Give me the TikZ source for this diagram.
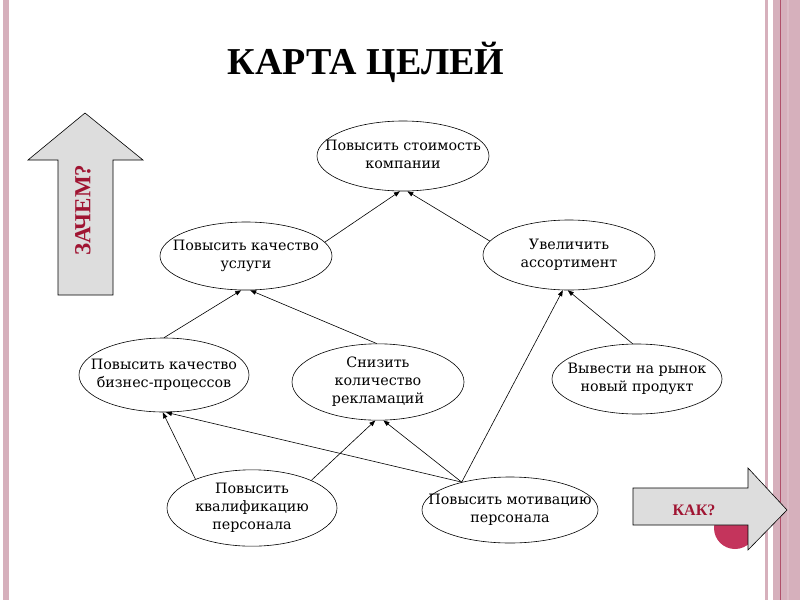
\documentclass[tikz,border=0pt]{standalone}
\usepackage{fontspec}
\setmainfont{DejaVu Serif}
\newfontfamily\titlefont{Liberation Serif}
\usetikzlibrary{arrows.meta,shapes.geometric}
\definecolor{stripe}{RGB}{214,176,188}
\definecolor{stripedark}{RGB}{176,80,106}
\definecolor{arrowgray}{RGB}{221,221,221}
\definecolor{wordred}{RGB}{160,20,50}
\definecolor{dotpink}{RGB}{196,52,92}
\newcommand\glabel[1]{\makebox[0pt]{\begin{tabular}{@{}c@{}}#1\end{tabular}}}
\tikzset{
  goal/.style={ellipse, draw, line width=0.6pt, inner sep=0pt,
    font=\fontsize{14.3}{18}\selectfont},
  conn/.style={line width=0.6pt, -{Triangle[length=6pt,width=4.5pt]}},
  bigarrow/.style={draw, line width=0.6pt, fill=arrowgray},
  word/.style={text=wordred, font=\titlefont\bfseries}
}
\begin{document}
\begin{tikzpicture}[x=1pt,y=-1pt]
\useasboundingbox (0,0) rectangle (800,600);
\fill[white] (0,0) rectangle (800,600);
% decorative stripes
\fill[stripe] (3,0) rectangle (9,600);
\fill[stripe] (765,0) rectangle (768,600);
\fill[stripe] (773,0) rectangle (800,600);
\fill[stripedark] (779.5,0) rectangle (780.8,600);
\fill[stripe!85!white] (787,0) rectangle (789,600);
% title
\node[font=\titlefont\bfseries\fontsize{38}{40}\selectfont] (title) at (366,62) {КАРТА ЦЕЛЕЙ};
% left arrow (up)
\draw[bigarrow] (58,295) -- (58,160) -- (28,160) -- (85,113) -- (143,160) -- (113,160) -- (113,295) -- cycle;
\node[word, rotate=90, font=\titlefont\bfseries\fontsize{23}{26}\selectfont] (why) at (83,210) {ЗАЧЕМ?};
% right arrow
\fill[dotpink] (735,528) circle (21);
\draw[bigarrow] (633,488) -- (748,488) -- (748,468) -- (787,510) -- (748,550) -- (748,525) -- (633,525) -- cycle;
\node[word, font=\titlefont\bfseries\fontsize{16}{18}\selectfont] (how) at (694,510) {КАК?};
% goals
\node[goal, minimum width=172pt, minimum height=70pt] (A) at (403,156) {\glabel{Повысить стоимость\\компании}};
\node[goal, minimum width=172pt, minimum height=68pt] (B) at (246,256) {\glabel{Повысить качество\\услуги}};
\node[goal, minimum width=172pt, minimum height=70pt] (C) at (569,255) {\glabel{Увеличить\\ассортимент}};
\node[goal, minimum width=170pt, minimum height=74pt] (D) at (164,375) {\glabel{Повысить качество\\бизнес-процессов}};
\node[goal, minimum width=172pt, minimum height=76pt] (E) at (378,382) {\glabel{Снизить\\количество\\рекламаций}};
\node[goal, minimum width=170pt, minimum height=70pt] (F) at (637,379) {\glabel{Вывести на рынок\\новый продукт}};
\node[goal, minimum width=170pt, minimum height=76pt] (G) at (252,508) {\glabel{Повысить\\квалификацию\\персонала}};
\node[goal, minimum width=176pt, minimum height=66pt] (H) at (510,510) {\glabel{Повысить мотивацию\\персонала}};
% connectors
\draw[conn] (B.10) -- (A.265);
\draw[conn] (C.170) -- (A.277);
\draw[conn] (D.90) -- (B.262);
\draw[conn] (E.92) -- (B.277);
\draw[conn] (F.97) -- (C.268);
\draw[conn] (H.150) -- (C.260);
\draw[conn] (H.150) -- (E.278);
\draw[conn] (H.150) -- (D.273);
\draw[conn] (G.153) -- (D.268);
\draw[conn] (G.25) -- (E.266);
\end{tikzpicture}
\end{document}
